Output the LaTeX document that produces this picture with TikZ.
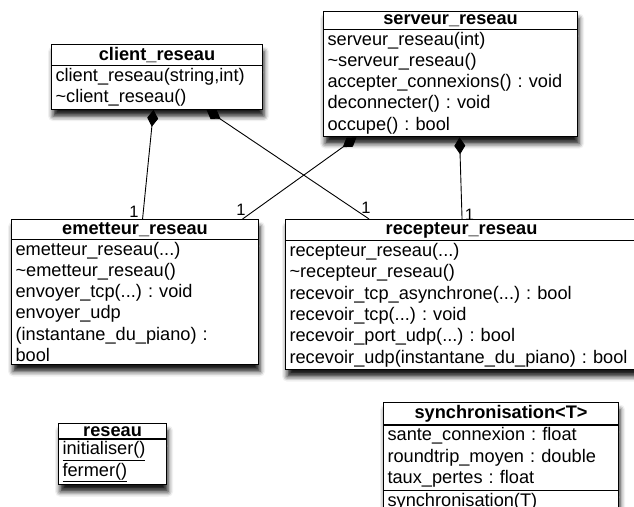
\documentclass[tikz,border=0pt]{standalone}
\usepackage{fontspec}
\setmainfont{Liberation Sans}
\usetikzlibrary{arrows.meta,shapes.multipart,shadows.blur}
\newcommand{\classtitle}[1]{{\centering\bfseries #1\par}}
\frenchspacing

\begin{document}
\begin{tikzpicture}[x=1pt, y=-1pt,
    classe/.style={rectangle split, rectangle split parts=2, draw, line width=1.1pt, fill=white,
      anchor=north west, align=left, inner xsep=4pt, inner ysep=2.2pt,
      font=\fontsize{18.2}{21.3}\selectfont,
      blur shadow={shadow xshift=1.5pt, shadow yshift=-7pt, shadow blur radius=5pt, shadow opacity=90}},
    compo/.style={{Diamond[length=17pt,width=11pt]}-, line width=0.9pt},
    mult/.style={font=\fontsize{16.5}{16.5}\selectfont, inner sep=0pt}]

    \useasboundingbox (0,0) rectangle (634,506);

    % classes
    \node[classe, text width=203pt] (client) at (51,44)
        {\classtitle{client\_reseau}\nodepart{two}client\_reseau(string,int)\\\textasciitilde client\_reseau()};
    \node[classe, text width=246pt] (serveur) at (323,11)
        {\classtitle{serveur\_reseau}\nodepart{two}serveur\_reseau(int)\\\textasciitilde serveur\_reseau()\\accepter\_connexions() : void\\deconnecter() : void\\occupe() : bool};
    \node[classe, text width=239pt] (emetteur) at (11,219)
        {\classtitle{emetteur\_reseau}\nodepart{two}emetteur\_reseau(...)\\\textasciitilde emetteur\_reseau()\\envoyer\_tcp(...) : void\\envoyer\_udp\\(instantane\_du\_piano) :\\bool};
    \node[classe, text width=344pt] (recepteur) at (285,219)
        {\classtitle{recepteur\_reseau}\nodepart{two}recepteur\_reseau(...)\\\textasciitilde recepteur\_reseau()\\recevoir\_tcp\_asynchrone(...) : bool\\recevoir\_tcp(...) : void\\recevoir\_port\_udp(...) : bool\\recevoir\_udp(instantane\_du\_piano) : bool};
    \node[classe, text width=100pt] (reseau) at (58,423)
        {\classtitle{reseau}\nodepart{two}\underline{initialiser()}\\\underline{fermer()}};
    \node[classe, rectangle split parts=3, text width=227pt] (synchro) at (383,402)
        {\classtitle{synchronisation<T>}\nodepart{two}sante\_connexion : float\\roundtrip\_moyen : double\\taux\_pertes : float\nodepart{three}synchronisation(T)};

    % compositions
    \foreach \src/\srcx/\dst/\dstx/\lblx/\lbly in {client/-3.5/emetteur/7.5/-8.5/7,
        client/49.5/recepteur/-92.5/-3/11.5, serveur/-94/emetteur/107.5/-1.5/9.5,
        serveur/9/recepteur/0.5/7.5/4.5}
    \draw[compo] ([xshift=\srcx pt]\src.south) -- ([xshift=\dstx pt]\dst.north)
        node[mult, pos=1, xshift=\lblx pt, yshift=\lbly pt] (m-\src-\dst) {1};
\end{tikzpicture}
\end{document}
